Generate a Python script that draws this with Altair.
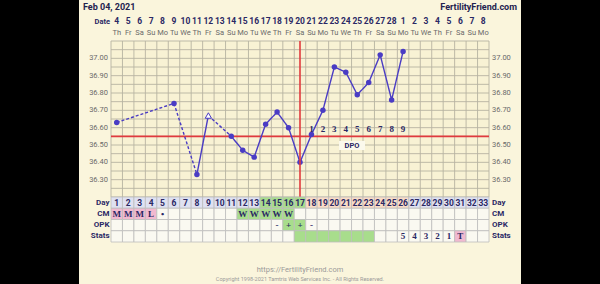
import altair as alt
import pandas as pd

# ---------------- data ----------------
cycle_days = list(range(1, 34))
dates = [str(d) for d in range(4, 29)] + [str(d) for d in range(1, 9)]
weekdays = (["Th", "Fr", "Sa", "Su", "Mo", "Tu", "We"] * 5)[:33]

temp_days = [1, 6, 8, 9, 11, 12, 13, 14, 15, 16, 17, 18, 19, 20, 21, 22, 23, 24, 25, 26]
temp_values = [36.63, 36.74, 36.33, 36.67, 36.55, 36.47, 36.43, 36.62, 36.69, 36.60,
               36.40, 36.56, 36.70, 36.95, 36.92, 36.79, 36.86, 37.02, 36.76, 37.04]
discarded_days = [9]
# line pieces: (from day, to day, style)
line_pieces = [(1, 6, "dashed"), (6, 8, "dashed"), (8, 9, "solid"), (9, 11, "dashed"), (11, 26, "solid")]

coverline = 36.55
ovulation_day = 17
dpo_days = [18, 19, 20, 21, 22, 23, 24, 25, 26]
dpo_labels = ["1", "2", "3", "4", "5", "6", "7", "8", "9"]

temp_grid = [36.20, 36.25, 36.30, 36.35, 36.40, 36.45, 36.50, 36.55, 36.60, 36.65,
             36.70, 36.75, 36.80, 36.85, 36.90, 36.95, 37.00, 37.05, 37.10]
temp_labels = [36.30, 36.40, 36.50, 36.60, 36.70, 36.80, 36.90, 37.00]

row_names = ["Day", "CM", "OPK", "Stats"]
fertile_days = [14, 15, 16, 17]
luteal_days = [18, 19, 20, 21, 22, 23, 24, 25, 26]
cm_days = [1, 2, 3, 4, 5, 12, 13, 14, 15, 16]
cm_values = ["M", "M", "M", "L", "•", "W", "W", "W", "W", "W"]
cm_kinds = ["pink", "pink", "pink", "pink", "blank", "green", "green", "green", "green", "green"]
opk_days = [15, 16, 17, 18]
opk_values = ["-", "+", "+", "-"]
opk_kinds = ["blank", "green", "green", "blank"]
stats_green_days = [17, 18, 19, 20, 21, 22, 23]
stats_days = [26, 27, 28, 29, 30, 31]
stats_values = ["5", "4", "3", "2", "1", "T"]
stats_kinds = ["blank", "blank", "blank", "blank", "blank", "pink"]

# ---------------- tables ----------------
temps_df = pd.DataFrame({"day": temp_days, "temp": temp_values})
temps_df["kind"] = ["open" if d in discarded_days else "dot" for d in temp_days]

line_rows = []
for i, (a, b, s) in enumerate(line_pieces):
    for d, t in zip(temp_days, temp_values):
        if a <= d <= b:
            line_rows.append({"seg": i, "day": d, "temp": t, "style": s})
line_df = pd.DataFrame(line_rows)

cells = []
for d in cycle_days:
    k = "green" if d in fertile_days else ("peach" if d in luteal_days else "lav")
    cells.append({"row": "Day", "day": d, "kind": k, "label": str(d)})
    if d in cm_days:
        j = cm_days.index(d)
        cells.append({"row": "CM", "day": d, "kind": cm_kinds[j], "label": cm_values[j]})
    else:
        cells.append({"row": "CM", "day": d, "kind": "blank", "label": ""})
    if d in opk_days:
        j = opk_days.index(d)
        cells.append({"row": "OPK", "day": d, "kind": opk_kinds[j], "label": opk_values[j]})
    else:
        cells.append({"row": "OPK", "day": d, "kind": "blank", "label": ""})
    if d in stats_days:
        j = stats_days.index(d)
        cells.append({"row": "Stats", "day": d, "kind": stats_kinds[j], "label": stats_values[j]})
    else:
        cells.append({"row": "Stats", "day": d, "kind": "green" if d in stats_green_days else "blank", "label": ""})
cells_df = pd.DataFrame(cells)

header_df = pd.DataFrame({"day": cycle_days, "date": dates, "wd": weekdays})

# ---------------- style ----------------
W, H = 378, 156
NAVY = "#2a2864"
LINE = "#4a3cc4"
RED = "#e03a3e"
GRIDC = "#b7b3a2"
GRAY = "#6a6a6a"
SANS = "Roboto"
SERIF = "Liberation Serif"

xS = alt.Scale(domain=[0.5, 33.5], nice=False, zero=False)
yT = alt.Scale(domain=[36.2, 37.1], nice=False, zero=False)
yR = alt.Scale(domain=row_names, range=[156, 201], paddingInner=0, paddingOuter=0)
kindS = alt.Scale(domain=["lav", "green", "peach", "pink", "blank"],
                  range=["#dfe1f1", "#a8dd8c", "#fadcc6", "#f1b9d0", "#faf9f1"])

one = pd.DataFrame({"a": [0]})

panel = alt.Chart(one).mark_rect(color="#faf5dc").encode(
    x=alt.value(-32), x2=alt.value(410), y=alt.value(-41), y2=alt.value(243))
plotbg = alt.Chart(one).mark_rect(color="#f8f2d4").encode(
    x=alt.value(0), x2=alt.value(W), y=alt.value(0), y2=alt.value(H))

hgrid = alt.Chart(pd.DataFrame({"temp": temp_grid})).mark_rule(color=GRIDC, strokeWidth=0.9).encode(
    y=alt.Y("temp:Q", scale=yT, axis=None), x=alt.value(0), x2=alt.value(W))
vgrid = alt.Chart(pd.DataFrame({"b": [d - 0.5 for d in cycle_days] + [33.5]})).mark_rule(
    color=GRIDC, strokeWidth=0.9).encode(
    x=alt.X("b:Q", scale=xS, axis=None), y=alt.value(0), y2=alt.value(H))

cover = alt.Chart(pd.DataFrame({"temp": [coverline]})).mark_rule(color=RED, strokeWidth=1.6).encode(
    y=alt.Y("temp:Q", scale=yT, axis=None), x=alt.value(0), x2=alt.value(W))

lines = alt.Chart(line_df).mark_line(color=LINE, strokeWidth=1.4).encode(
    x=alt.X("day:Q", scale=xS, axis=None),
    y=alt.Y("temp:Q", scale=yT, axis=None),
    detail="seg:N",
    order="day:Q",
    strokeDash=alt.StrokeDash("style:N", scale=alt.Scale(domain=["solid", "dashed"], range=[[1, 0], [3, 2]]), legend=None),
)

dots = alt.Chart(temps_df).transform_filter(alt.datum.kind == "dot").mark_circle(
    color=LINE, size=30, opacity=1).encode(
    x=alt.X("day:Q", scale=xS, axis=None), y=alt.Y("temp:Q", scale=yT, axis=None))
opens = alt.Chart(temps_df).transform_filter(alt.datum.kind == "open").mark_point(
    shape="triangle-up", size=40, filled=True, fill="white", stroke=LINE, strokeWidth=1, opacity=1).encode(
    x=alt.X("day:Q", scale=xS, axis=None), y=alt.Y("temp:Q", scale=yT, axis=None))

ovu = alt.Chart(pd.DataFrame({"day": [ovulation_day]})).mark_rule(color=RED, strokeWidth=1.6).encode(
    x=alt.X("day:Q", scale=xS, axis=None), y=alt.value(0), y2=alt.value(H))

dpo = alt.Chart(pd.DataFrame({"day": dpo_days, "lab": dpo_labels})).mark_text(
    font=SERIF, fontWeight="bold", fontSize=9, color=NAVY).encode(
    x=alt.X("day:Q", scale=xS, axis=None), y=alt.value(88), text="lab:N")
dpo_box = alt.Chart(one).mark_rect(color="#fbf9ec").encode(
    x=alt.value(228), x2=alt.value(254), y=alt.value(100), y2=alt.value(109))
dpo_txt = alt.Chart(one).mark_text(font=SANS, fontWeight="bold", fontSize=7.5, color=NAVY).encode(
    x=alt.value(241), y=alt.value(104.5), text=alt.value("DPO"))

cell_rects = alt.Chart(cells_df).transform_calculate(
    x0="datum.day - 0.5", x1="datum.day + 0.5").mark_rect(stroke="#bdbdbd", strokeWidth=0.8).encode(
    x=alt.X("x0:Q", scale=xS, axis=None), x2="x1:Q",
    y=alt.Y("row:O", scale=yR, axis=None),
    fill=alt.Fill("kind:N", scale=kindS, legend=None))
cell_day_txt = alt.Chart(cells_df).transform_filter(alt.datum.row == "Day").mark_text(
    font=SANS, fontWeight="bold", fontSize=8.5, color=NAVY).encode(
    x=alt.X("day:Q", scale=xS, axis=None), y=alt.Y("row:O", scale=yR, axis=None), text="label:N")
cell_txt = alt.Chart(cells_df).transform_filter(alt.datum.row != "Day").mark_text(
    font=SERIF, fontWeight="bold", fontSize=9, color=NAVY).encode(
    x=alt.X("day:Q", scale=xS, axis=None), y=alt.Y("row:O", scale=yR, axis=None), text="label:N")

rows_df = pd.DataFrame({"row": row_names})
row_lab_l = alt.Chart(rows_df).mark_text(font=SANS, fontWeight="bold", fontSize=8, color=NAVY, align="right").encode(
    x=alt.value(-1.5), y=alt.Y("row:O", scale=yR, axis=None), text="row:N")
row_lab_r = alt.Chart(rows_df).mark_text(font=SANS, fontWeight="bold", fontSize=8, color=NAVY, align="left").encode(
    x=alt.value(381), y=alt.Y("row:O", scale=yR, axis=None), text="row:N")

tl_df = pd.DataFrame({"temp": temp_labels})
ylab_l = alt.Chart(tl_df).mark_text(font=SANS, fontSize=7.5, color=GRAY, align="right").encode(
    x=alt.value(-3), y=alt.Y("temp:Q", scale=yT, axis=None), text=alt.Text("temp:Q", format=".2f"))
ylab_r = alt.Chart(tl_df).mark_text(font=SANS, fontSize=7.5, color=GRAY, align="left").encode(
    x=alt.value(381), y=alt.Y("temp:Q", scale=yT, axis=None), text=alt.Text("temp:Q", format=".2f"))

date_txt = alt.Chart(header_df).mark_text(font=SANS, fontWeight="bold", fontSize=8.5, color=NAVY).encode(
    x=alt.X("day:Q", scale=xS, axis=None), y=alt.value(-20), text="date:N")
wd_txt = alt.Chart(header_df).mark_text(font=SANS, fontSize=7.5, color=GRAY).encode(
    x=alt.X("day:Q", scale=xS, axis=None), y=alt.value(-8), text="wd:N")
date_lab = alt.Chart(one).mark_text(font=SANS, fontWeight="bold", fontSize=7.5, color=NAVY, align="right").encode(
    x=alt.value(-1), y=alt.value(-19), text=alt.value("Date"))
title = alt.Chart(one).mark_text(font=SANS, fontWeight="bold", fontSize=9, color="#23224f", align="left").encode(
    x=alt.value(-28), y=alt.value(-34), text=alt.value("Feb 04, 2021"))
site = alt.Chart(one).mark_text(font=SANS, fontWeight="bold", fontSize=9, color="#23224f", align="right").encode(
    x=alt.value(406), y=alt.value(-34), text=alt.value("FertilityFriend.com"))
url = alt.Chart(one).mark_text(font=SANS, fontSize=7.5, color="#9a9a9a").encode(
    x=alt.value(189), y=alt.value(229), text=alt.value("https://FertilityFriend.com"))
copy = alt.Chart(one).mark_text(font=SANS, fontSize=5.5, color="#9a9a9a").encode(
    x=alt.value(189), y=alt.value(238), text=alt.value("Copyright 1998-2021 Tamtris Web Services Inc. - All Rights Reserved."))

chart = alt.layer(
    panel, plotbg, hgrid, vgrid, cover, lines, dots, opens, ovu,
    dpo, dpo_box, dpo_txt,
    cell_rects, cell_day_txt, cell_txt, row_lab_l, row_lab_r,
    ylab_l, ylab_r, date_txt, wd_txt, date_lab, title, site, url, copy,
).resolve_scale(y="independent").properties(
    width=W, height=H,
    padding={"left": 111, "top": 41, "right": 111, "bottom": 87},
    autosize=alt.AutoSizeParams(type="none"),
    background="black",
).configure_view(stroke=None)

chart.save("out.html", embed_options={"renderer": "svg", "actions": False})
